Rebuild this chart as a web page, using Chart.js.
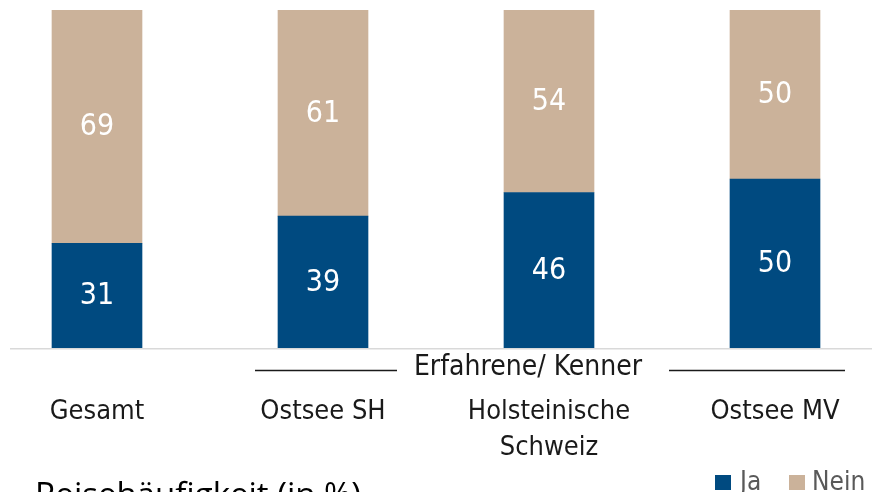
<!DOCTYPE html>
<html><head><meta charset="utf-8">
<script src="https://cdn.jsdelivr.net/npm/chart.js@4/dist/chart.umd.min.js"></script>
<style>
html,body{margin:0;padding:0;background:#fff;overflow:hidden;width:872px;height:492px;}
#c{position:absolute;left:-16px;top:0;}
</style></head>
<body>
<canvas id="c" width="904" height="492"></canvas>
<script>
const categories = [["Gesamt"], ["Ostsee SH"], ["Holsteinische", "Schweiz"], ["Ostsee MV"]];
const seriesNames = ["Ja", "Nein"];
const jaValues = [31, 39, 46, 50];
const neinValues = [69, 61, 54, 50];
const groupLabel = "Erfahrene/ Kenner";
const chartTitle = "Reisehäufigkeit (in %)";

const BLUE = "#004a80";
const TAN = "#cbb29a";
const COND = "'DejaVu Sans Condensed', 'Liberation Sans Narrow', 'DejaVu Sans', sans-serif";
const OFF = 16;

const overlay = {
  id: 'overlay',
  afterDatasetsDraw(chart) {
    const ctx = chart.ctx;
    const y0 = chart.scales.y.getPixelForValue(0);
    ctx.save();
    // baseline
    ctx.strokeStyle = "#d9d9d9";
    ctx.lineWidth = 1.5;
    ctx.beginPath();
    ctx.moveTo(10 + OFF, y0 + 0.75);
    ctx.lineTo(872 + OFF, y0 + 0.75);
    ctx.stroke();
    // value labels
    ctx.fillStyle = "#ffffff";
    ctx.font = "30px " + COND;
    ctx.textAlign = "center";
    ctx.textBaseline = "middle";
    chart.data.datasets.forEach((ds, di) => {
      const meta = chart.getDatasetMeta(di);
      meta.data.forEach((bar, i) => {
        const cy = (bar.y + bar.base) / 2;
        ctx.fillText(String(ds.data[i]), bar.x, cy + 1);
      });
    });
    // group bracket
    const tx = 528 + OFF;
    const ty = 368;
    ctx.fillStyle = "#1a1a1a";
    ctx.font = "28px " + COND;
    ctx.textAlign = "center";
    ctx.fillText(groupLabel, tx, ty);
    ctx.strokeStyle = "#1a1a1a";
    ctx.lineWidth = 1.5;
    ctx.beginPath();
    ctx.moveTo(255 + OFF, 370.5); ctx.lineTo(397 + OFF, 370.5);
    ctx.moveTo(669 + OFF, 370.5); ctx.lineTo(845 + OFF, 370.5);
    ctx.stroke();
    // legend
    ctx.font = "26px " + COND;
    ctx.textAlign = "left";
    ctx.textBaseline = "alphabetic";
    ctx.fillStyle = BLUE;
    ctx.fillRect(715 + OFF, 475, 16, 15);
    ctx.fillStyle = "#595959";
    ctx.fillText(seriesNames[0], 740 + OFF, 490);
    ctx.fillStyle = TAN;
    ctx.fillRect(789 + OFF, 475, 16, 15);
    ctx.fillStyle = "#595959";
    ctx.fillText(seriesNames[1], 812 + OFF, 490);
    // title (cut off at bottom)
    ctx.fillStyle = "#000000";
    ctx.font = "33px 'Open Sans', sans-serif";
    ctx.fillText(chartTitle, 35 + OFF, 506);
    ctx.restore();
  }
};

new Chart(document.getElementById('c'), {
  type: 'bar',
  data: {
    labels: categories,
    datasets: [
      { label: seriesNames[0], data: jaValues, backgroundColor: BLUE, borderWidth: 0 },
      { label: seriesNames[1], data: neinValues, backgroundColor: TAN, borderWidth: 0 }
    ]
  },
  options: {
    responsive: false,
    animation: false,
    events: [],
    layout: { padding: { top: 10, left: 0, right: 0, bottom: 0 } },
    barThickness: 90,
    plugins: { legend: { display: false }, tooltip: { enabled: false }, title: { display: false } },
    scales: {
      x: {
        stacked: true,
        grid: { display: false, drawTicks: false },
        border: { display: false },
        ticks: {
          padding: 46,
          color: "#1a1a1a",
          font: { family: COND, size: 27, lineHeight: 36/27 },
          maxRotation: 0, autoSkip: false
        },
        afterFit(scale) { scale.height = 144; }
      },
      y: {
        stacked: true, display: false, min: 0, max: 100
      }
    }
  },
  plugins: [overlay]
});
</script>
</body></html>
